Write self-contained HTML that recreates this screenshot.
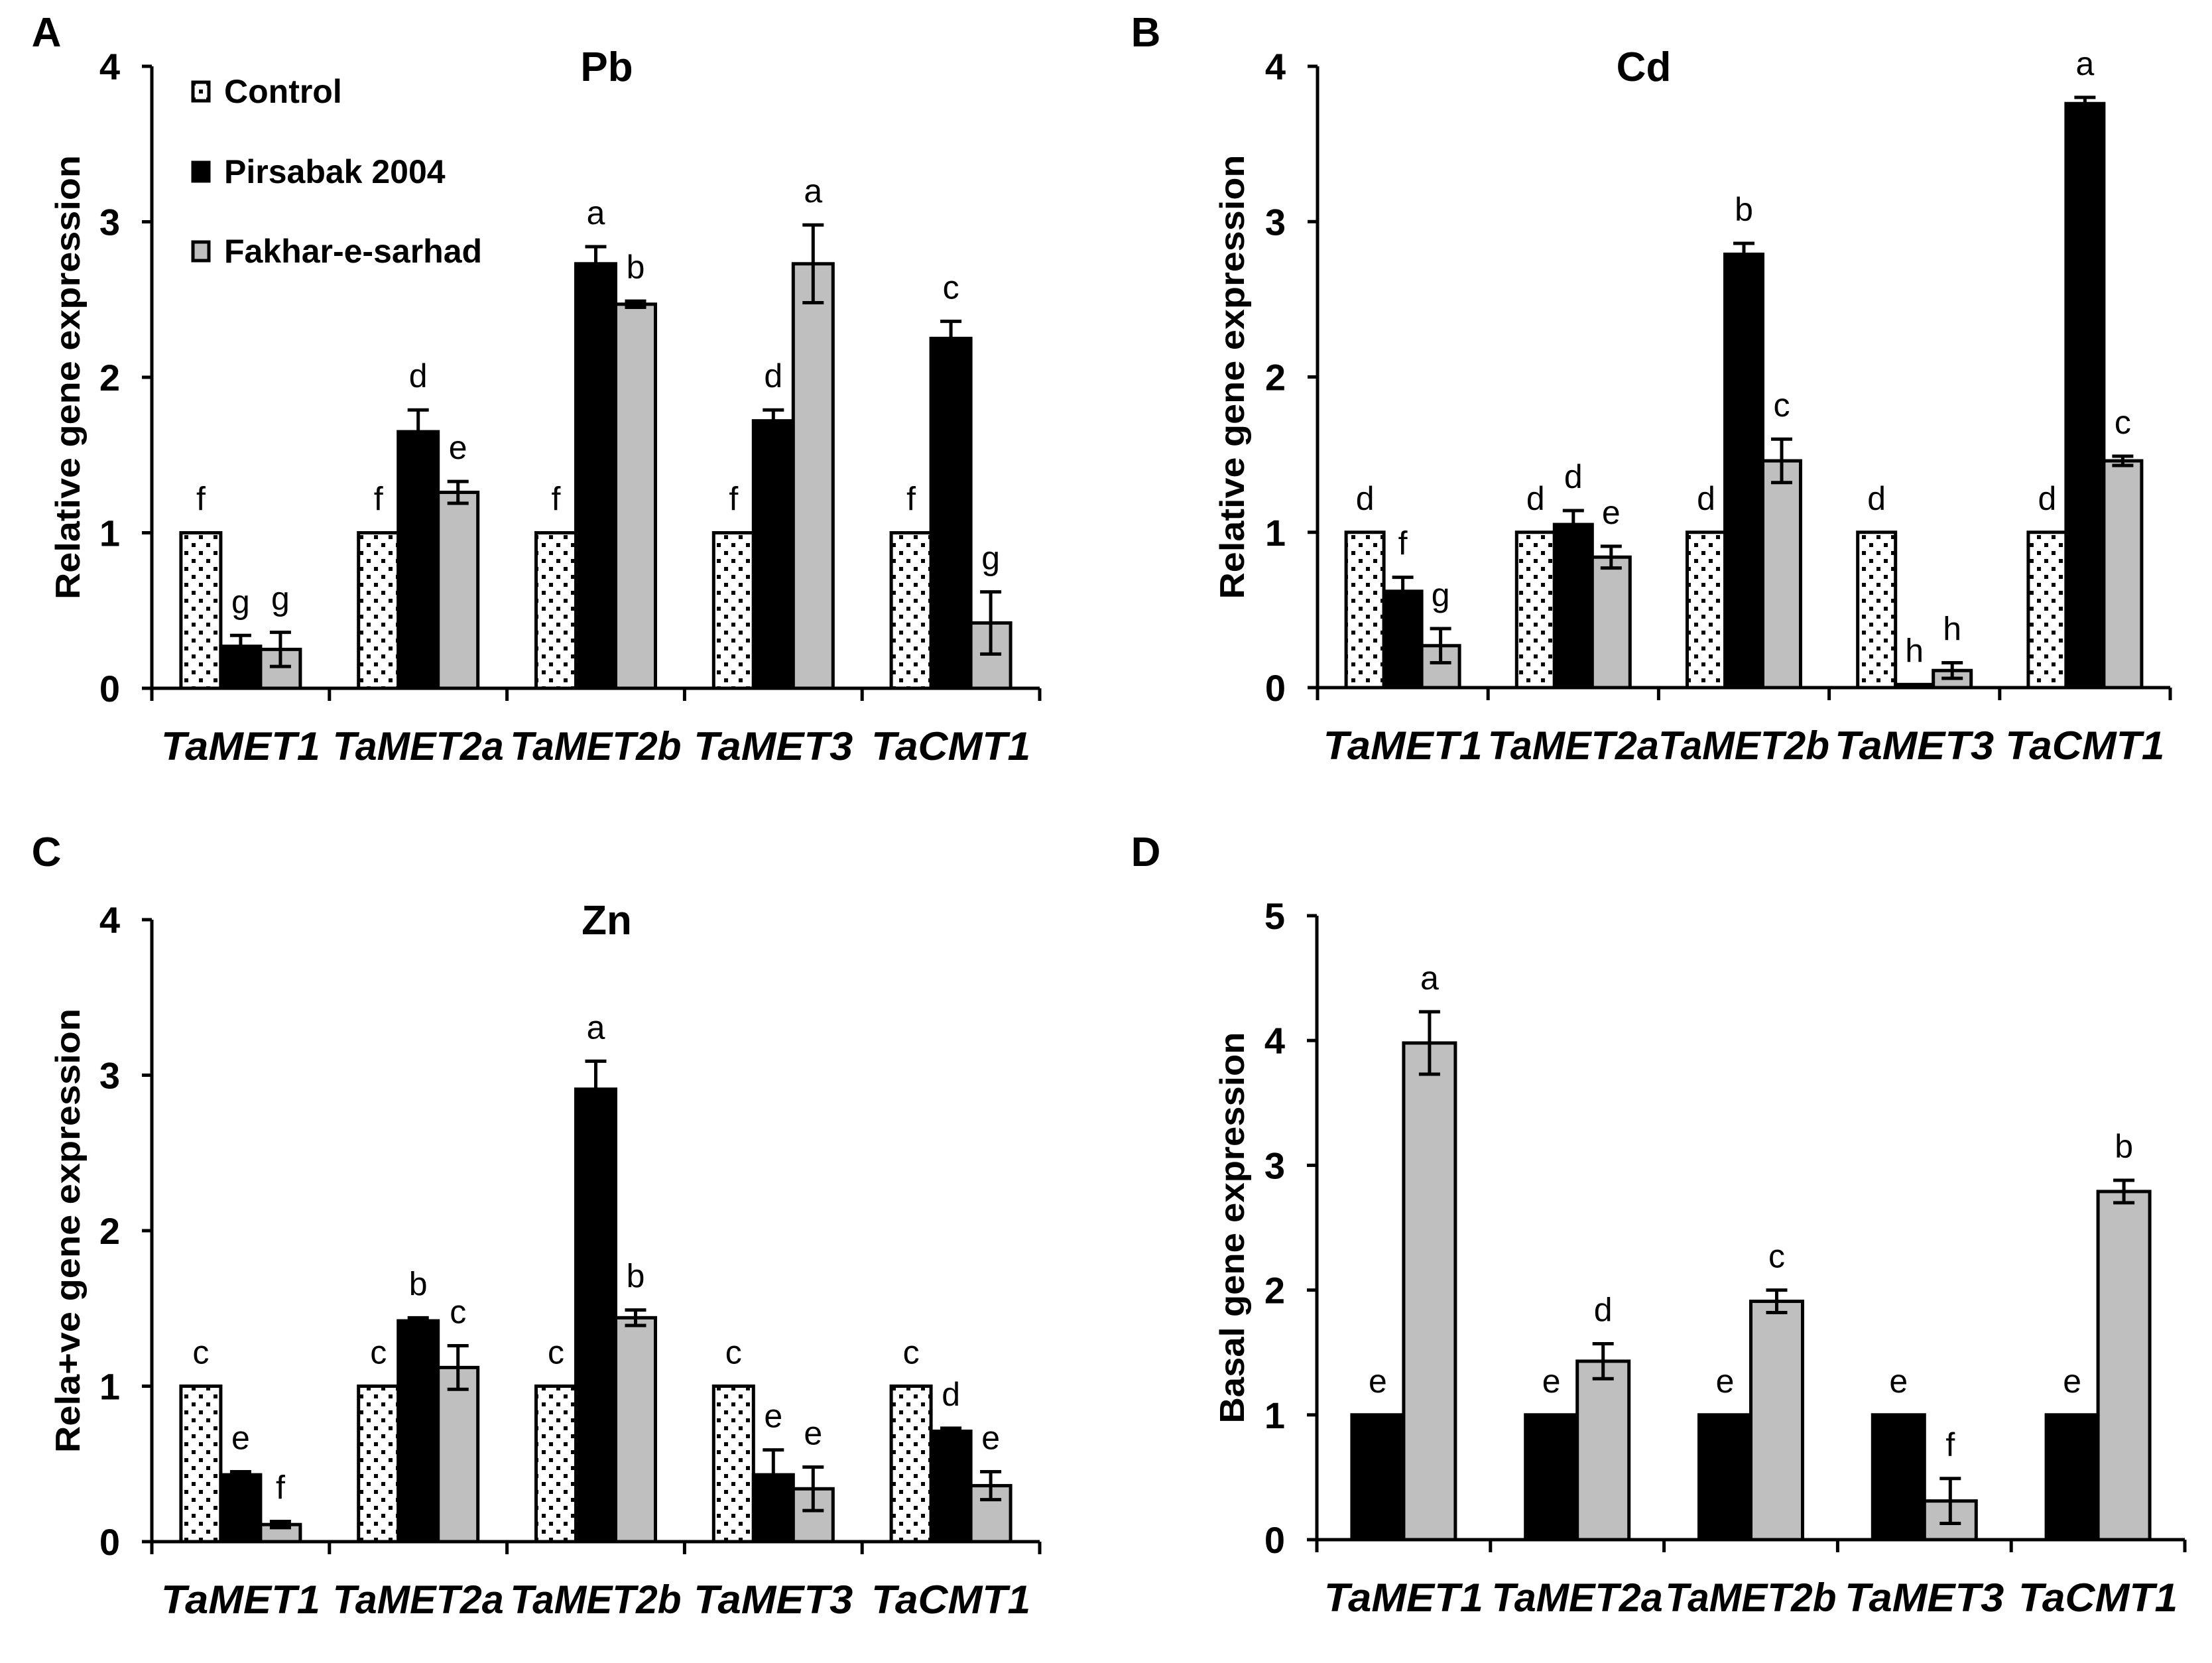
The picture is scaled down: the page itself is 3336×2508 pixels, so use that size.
<!DOCTYPE html>
<html><head><meta charset="utf-8">
<style>
html,body{margin:0;padding:0;background:#fff;}
svg{display:block;font-family:"Liberation Sans",sans-serif;}
</style></head>
<body>
<svg id="fig" width="3336" height="2508" viewBox="0 0 3336 2508" xmlns="http://www.w3.org/2000/svg">
<defs>
<pattern id="dots" patternUnits="userSpaceOnUse" width="22" height="24">
<rect width="22" height="24" fill="#fff"/>
<rect x="3" y="3" width="6" height="6" fill="#000"/>
<rect x="14" y="15" width="6" height="6" fill="#000"/>
</pattern>
</defs>
</svg>
<script>
const genes = ["TaMET1","TaMET2a","TaMET2b","TaMET3","TaCMT1"];
// Panel A (Pb)
const pbControl = [1,1,1,1,1];
const pbPirsabak = [0.27,1.65,2.73,1.72,2.25];
const pbPirsabakErr = [0.07,0.14,0.11,0.07,0.11];
const pbFakhar = [0.25,1.26,2.47,2.73,0.42];
const pbFakharErr = [0.11,0.07,0.02,0.25,0.2];
const pbLetters = [["f","f","f","f","f"],["g","d","a","d","c"],["g","e","b","a","g"]];
// Panel B (Cd)
const cdControl = [1,1,1,1,1];
const cdPirsabak = [0.62,1.05,2.79,0.02,3.76];
const cdPirsabakErr = [0.09,0.09,0.07,0.0,0.04];
const cdFakhar = [0.27,0.84,1.46,0.11,1.46];
const cdFakharErr = [0.11,0.07,0.14,0.05,0.03];
const cdLetters = [["d","d","d","d","d"],["f","d","b","h","a"],["g","e","c","h","c"]];
// Panel C (Zn)
const znControl = [1,1,1,1,1];
const znPirsabak = [0.43,1.42,2.91,0.43,0.71];
const znPirsabakErr = [0.02,0.02,0.18,0.16,0.02];
const znFakhar = [0.11,1.12,1.44,0.34,0.36];
const znFakharErr = [0.02,0.14,0.05,0.14,0.09];
const znLetters = [["c","c","c","c","c"],["e","b","a","e","d"],["f","c","b","e","e"]];
// Panel D (basal)
const basalPirsabak = [1,1,1,1,1];
const basalFakhar = [3.98,1.43,1.91,0.31,2.79];
const basalFakharErr = [0.25,0.14,0.09,0.18,0.09];
const basalLetters = [["e","e","e","e","e"],["a","d","c","f","b"]];
const ticks4 = [0,1,2,3,4];
const ticks5 = [0,1,2,3,4,5];

const NS = "http://www.w3.org/2000/svg";
const svg = document.getElementById('fig');
function mk(tag, attrs, parent){
  const e = document.createElementNS(NS, tag);
  for (const k in attrs) e.setAttribute(k, attrs[k]);
  (parent||svg).appendChild(e);
  return e;
}
function txt(parent, s, x, y, size, opts){
  opts = opts||{};
  const t = mk('text', {x:x, y:y, 'font-size':size, 'font-weight':opts.weight||'bold', 'text-anchor':opts.anchor||'middle', fill:'#000'}, parent);
  if (opts.italic) t.setAttribute('font-style','italic');
  if (opts.rotate) t.setAttribute('transform', 'rotate(-90 '+x+' '+y+')');
  if (opts.len) { t.setAttribute('textLength', opts.len); t.setAttribute('lengthAdjust','spacingAndGlyphs'); }
  t.textContent = s;
  return t;
}

function panel(cfg){
  const g = mk('g', {});
  
  
  const x0 = cfg.x0, x1 = cfg.x1, y0 = cfg.y0, yTop = cfg.yTop, ymax = cfg.ymax;
  const ys = v => y0 - (v/ymax)*(y0-yTop);
  const cw = (x1-x0)/genes.length;
  const nb = cfg.series.length;
  const bw = cfg.bw;
  cfg.series.forEach((s, si) => {
    s.vals.forEach((v, i) => {
      const cx = x0 + cw*(i+0.5);
      const bx = cx - nb*bw/2 + si*bw;
      const r = mk('rect', {x:bx, y:ys(v), width:bw, height:y0-ys(v), fill:s.fill, stroke:'#000', 'stroke-width':5}, g);
      
      
      let top = ys(v);
      if (s.err) {
        const e = s.err[i];
        if (e > 0) {
          const ex = bx + bw/2;
          const eb = mk('path', {d:'M'+ex+' '+ys(v-e)+'V'+ys(v+e)+'M'+(ex-16)+' '+ys(v+e)+'H'+(ex+16)+'M'+(ex-16)+' '+ys(v-e)+'H'+(ex+16), stroke:'#000', 'stroke-width':5, fill:'none'}, g);
          
          
        }
        top = ys(v+e);
      }
      const lt = txt(g, s.letters[i], bx + bw/2, top - 34, 50, {weight:'normal'});
      
      
    });
  });
  const ax = mk('path', {d:'M'+x0+' '+yTop+'V'+y0+'H'+x1, stroke:'#000', 'stroke-width':5, fill:'none'}, g);
  
  
  cfg.ticks.forEach(t => {
    mk('path', {d:'M'+(x0-15)+' '+ys(t)+'H'+x0, stroke:'#000', 'stroke-width':5}, g);
    const tl = txt(g, String(t), x0-48, ys(t)+20, 56, {anchor:'end'});
    
    
  });
  for (let i=0;i<=genes.length;i++){
    const tx = x0 + cw*i;
    mk('path', {d:'M'+tx+' '+y0+'V'+(y0+19), stroke:'#000', 'stroke-width':5}, g);
  }
  genes.forEach((gname, i) => {
    const cl = txt(g, gname, x0 + cw*(i+0.5), y0+108, 60, {italic:true, len: gname.length>6 ? 258 : 240});
    
    
  });
  const yt = txt(g, cfg.ytitle, cfg.ytx, (y0+yTop)/2, 52, {rotate:true, len:cfg.ytlen});
  
  
  if (cfg.title) {
    const tt = txt(g, cfg.title, cfg.titleX, yTop+22, 62);
    
    
  }
  const pl = txt(g, cfg.letter, cfg.lx, cfg.ly, 62);
  
  
}

panel({name:'panel-a-pb', x0:229, x1:1568, y0:1038, yTop:100, ymax:4, bw:60, ticks:ticks4,
  ytitle:'Relative gene expression', ytx:120, ytlen:670, title:'Pb', titleX:915, letter:'A', lx:70, ly:70,
  series:[{key:'control', vals:pbControl, fill:'url(#dots)', letters:pbLetters[0]},
          {key:'pirsabak', vals:pbPirsabak, err:pbPirsabakErr, fill:'#000', letters:pbLetters[1]},
          {key:'fakhar', vals:pbFakhar, err:pbFakharErr, fill:'#bfbfbf', letters:pbLetters[2]}]});
panel({name:'panel-b-cd', x0:1987, x1:3273, y0:1037, yTop:100, ymax:4, bw:57, ticks:ticks4,
  ytitle:'Relative gene expression', ytx:1876, ytlen:670, title:'Cd', titleX:2479, letter:'B', lx:1728, ly:70,
  series:[{key:'control', vals:cdControl, fill:'url(#dots)', letters:cdLetters[0]},
          {key:'pirsabak', vals:cdPirsabak, err:cdPirsabakErr, fill:'#000', letters:cdLetters[1]},
          {key:'fakhar', vals:cdFakhar, err:cdFakharErr, fill:'#bfbfbf', letters:cdLetters[2]}]});
panel({name:'panel-c-zn', x0:229, x1:1568, y0:2325, yTop:1387, ymax:4, bw:60, ticks:ticks4,
  ytitle:'Rela+ve gene expression', ytx:120, ytlen:670, title:'Zn', titleX:915, letter:'C', lx:70, ly:1306,
  series:[{key:'control', vals:znControl, fill:'url(#dots)', letters:znLetters[0]},
          {key:'pirsabak', vals:znPirsabak, err:znPirsabakErr, fill:'#000', letters:znLetters[1]},
          {key:'fakhar', vals:znFakhar, err:znFakharErr, fill:'#bfbfbf', letters:znLetters[2]}]});
panel({name:'panel-d-basal', x0:1986, x1:3295, y0:2322, yTop:1381, ymax:5, bw:78, ticks:ticks5,
  ytitle:'Basal gene expression', ytx:1876, ytlen:590, title:null, letter:'D', lx:1728, ly:1306,
  series:[{key:'pirsabak', vals:basalPirsabak, fill:'#000', letters:basalLetters[0]},
          {key:'fakhar', vals:basalFakhar, err:basalFakharErr, fill:'#bfbfbf', letters:basalLetters[1]}]});

const lg = mk('g', {});


const legendItems = [["Control","url(#dots)",136],["Pirsabak 2004","#000",257],["Fakhar-e-sarhad","#bfbfbf",377]];
legendItems.forEach(it => {
  const e = mk('g', {}, lg);
  
  
  mk('rect', {x:291, y:it[2]-12, width:24, height:28, fill:it[1], stroke:'#000', 'stroke-width':5}, e);
  txt(e, it[0], 338, it[2]+19, 50, {anchor:'start'});
});
</script>
</body></html>
